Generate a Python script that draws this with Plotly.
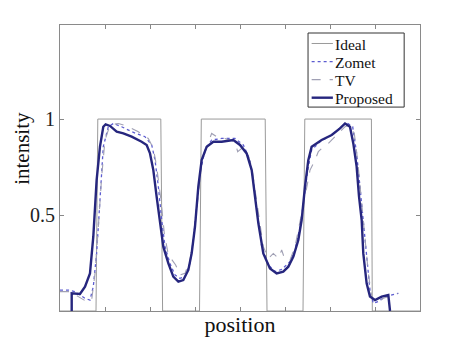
import plotly.graph_objects as go

# Ideal step profile
ideal_x = [0, 40, 42, 112, 114, 155, 157, 228, 230, 270, 272, 346, 347, 400]
ideal_y = [0, 0, 1, 1, 0, 0, 1, 1, 0, 0, 1, 1, 0, 0]

# Zomet
zomet_x = [0, 9.3, 16.7, 27.8, 33.3, 37.0, 40.7, 44.4, 48.1, 53.7, 59.3, 68.5, 79.6, 94.4,
           101.9, 105.6, 109.3, 113.0, 116.7, 122.2, 127.8, 133.3, 138.9, 144.4, 148.1,
           151.9, 155.6, 161.1, 168.5, 179.6, 194.4, 203.7, 211.1, 215.6, 219.6, 224.1,
           231.5, 238.9, 246.3, 255.6, 261.1, 266.7, 271.5, 275.2, 279.6, 288.9, 301.9,
           313.0, 318.5, 325.2, 329.6, 333.3, 337.0, 340.7, 344.4, 348.1, 353.7, 361.1,
           368.5, 375.9]
zomet_y = [0.109, 0.109, 0.101, 0.066, 0.057, 0.127, 0.300, 0.613, 0.856, 0.960, 0.977,
           0.960, 0.934, 0.908, 0.865, 0.786, 0.648, 0.474, 0.335, 0.248, 0.188, 0.170,
           0.179, 0.248, 0.370, 0.543, 0.717, 0.839, 0.891, 0.899, 0.899, 0.865, 0.786,
           0.648, 0.491, 0.335, 0.240, 0.205, 0.217, 0.257, 0.318, 0.439, 0.595, 0.734,
           0.839, 0.882, 0.917, 0.960, 0.981, 0.960, 0.821, 0.648, 0.457, 0.266, 0.109,
           0.040, 0.049, 0.075, 0.083, 0.092]

# TV
tv_x = [0, 11.1, 20.4, 29.6, 35.2, 38.9, 42.6, 46.3, 50.0, 55.6, 64.8, 74.1, 87.0, 98.1,
        103.7, 107.4, 112.2, 115.9, 120.4, 124.8, 128.5, 133.3, 138.9, 144.4, 149.3, 153.0,
        157.4, 163.0, 168.5, 174.1, 183.3, 194.4, 197.4, 201.9, 207.4, 213.0, 216.7, 221.1,
        225.9, 231.5, 237.0, 242.6, 246.3, 250.0, 255.6, 261.1, 266.7, 272.2, 277.8, 283.3,
        287.0, 290.7, 298.1, 307.4, 316.7, 322.2, 327.0, 330.7, 334.4, 338.1, 342.6, 346.3,
        351.9, 359.3, 366.7, 375.9]
tv_y = [0.101, 0.101, 0.075, 0.049, 0.057, 0.196, 0.439, 0.700, 0.891, 0.969, 0.977, 0.964,
        0.934, 0.899, 0.847, 0.752, 0.578, 0.405, 0.292, 0.266, 0.240, 0.188, 0.196, 0.266,
        0.405, 0.578, 0.769, 0.856, 0.925, 0.908, 0.899, 0.882, 0.830, 0.847, 0.830, 0.752,
        0.630, 0.474, 0.335, 0.274, 0.300, 0.274, 0.318, 0.266, 0.266, 0.335, 0.457, 0.595,
        0.734, 0.786, 0.830, 0.847, 0.873, 0.917, 0.960, 0.969, 0.925, 0.786, 0.613, 0.405,
        0.196, 0.075, 0.040, 0.066, 0.078, 0.092]

# Proposed
prop_x = [13.0, 13.0, 22.2, 27.8, 33.3, 37.0, 40.7, 44.4, 48.1, 50.7, 55.6, 63.0, 70.4,
          79.6, 90.7, 96.3, 100.0, 103.7, 107.4, 111.1, 114.8, 120.4, 125.9, 131.5, 137.0,
          142.6, 146.3, 150.0, 153.7, 157.4, 163.0, 170.4, 179.6, 192.6, 200.0, 207.4,
          213.0, 216.7, 220.4, 225.9, 233.3, 240.7, 248.1, 253.7, 259.3, 264.8, 268.5,
          272.2, 275.9, 279.6, 290.7, 301.9, 311.1, 316.7, 322.2, 325.9, 329.6, 332.2,
          335.2, 337.0, 340.7, 344.4, 350.0, 357.4, 364.8, 366.7]
prop_y = [0.0, 0.092, 0.089, 0.127, 0.196, 0.387, 0.682, 0.856, 0.960, 0.972, 0.964,
          0.934, 0.925, 0.908, 0.882, 0.865, 0.821, 0.734, 0.595, 0.474, 0.335, 0.248,
          0.179, 0.153, 0.161, 0.214, 0.300, 0.439, 0.648, 0.786, 0.856, 0.882, 0.882,
          0.891, 0.865, 0.821, 0.734, 0.595, 0.457, 0.300, 0.222, 0.196, 0.205, 0.231,
          0.283, 0.370, 0.474, 0.648, 0.786, 0.856, 0.891, 0.917, 0.951, 0.977, 0.960,
          0.873, 0.752, 0.599, 0.474, 0.300, 0.144, 0.075, 0.057, 0.075, 0.083, 0.0]

series_names = ["Ideal", "Zomet", "TV", "Proposed"]
series_x = [ideal_x, zomet_x, tv_x, prop_x]
series_y = [ideal_y, zomet_y, tv_y, prop_y]
series_style = [dict(color="#9a9a9a", width=1),
                dict(color="#5c5cd0", width=1.3, dash="dot"),
                dict(color="#a0a0b4", width=1.1, dash="dash"),
                dict(color="#26267e", width=2.4)]

serif = "Liberation Serif"

fig = go.Figure()
for name, xs, ys, st in zip(series_names, series_x, series_y, series_style):
    fig.add_trace(go.Scatter(x=xs, y=ys, mode="lines", name=name, line=st, showlegend=False))

# Compact MATLAB-like legend box (paper coordinates)
box_x0, box_x1, box_y0, box_y1 = 0.689, 0.956, 0.713, 0.972
fig.add_shape(type="rect", xref="paper", yref="paper", x0=box_x0, x1=box_x1,
              y0=box_y0, y1=box_y1, line=dict(color="#333333", width=1),
              fillcolor="white", layer="above")
row_h = (box_y1 - box_y0) / 4.1
for i, (name, st) in enumerate(zip(series_names, series_style)):
    yy = box_y1 - row_h * (i + 0.58)
    fig.add_shape(type="line", xref="paper", yref="paper", x0=box_x0 + 0.010,
                  x1=box_x0 + 0.069, y0=yy, y1=yy, line=st, layer="above")
    fig.add_annotation(xref="paper", yref="paper", x=box_x0 + 0.072, y=yy - 0.004,
                       text=name, showarrow=False, xanchor="left", yanchor="middle",
                       font=dict(family=serif, size=15.5, color="#111111"),
                       borderpad=0)

# y-axis title
fig.add_annotation(xref="paper", yref="paper", x=-0.106, y=0.57, text="intensity",
                   textangle=-90, showarrow=False, xanchor="center", yanchor="middle",
                   font=dict(family=serif, size=21, color="#111111"), borderpad=0)

fig.update_layout(
    width=456, height=340,
    margin=dict(l=52, r=44, t=17, b=37, autoexpand=False),
    paper_bgcolor="white", plot_bgcolor="white",
    font=dict(family=serif, size=16, color="#222222"),
    showlegend=False,
)
fig.update_xaxes(range=[0, 400], tickvals=[0, 50, 100, 150, 200, 250, 300, 350, 400],
                 showticklabels=False, ticks="inside", ticklen=4, tickcolor="#888888",
                 showgrid=False, zeroline=False, showline=True, linecolor="#8a8a8a",
                 linewidth=1, mirror="ticks", automargin=False,
                 title=dict(text="position", font=dict(family=serif, size=22, color="#111111"),
                            standoff=5))
fig.update_yaxes(range=[0, 1.49], tickvals=[0.5, 1], ticktext=["0.5", "1"],
                 ticks="inside", ticklen=4, tickcolor="#888888",
                 tickfont=dict(family=serif, size=20, color="#222222"),
                 showgrid=False, zeroline=False, showline=True, linecolor="#8a8a8a",
                 linewidth=1, mirror="ticks", automargin=False)

fig.write_html("out.html")
